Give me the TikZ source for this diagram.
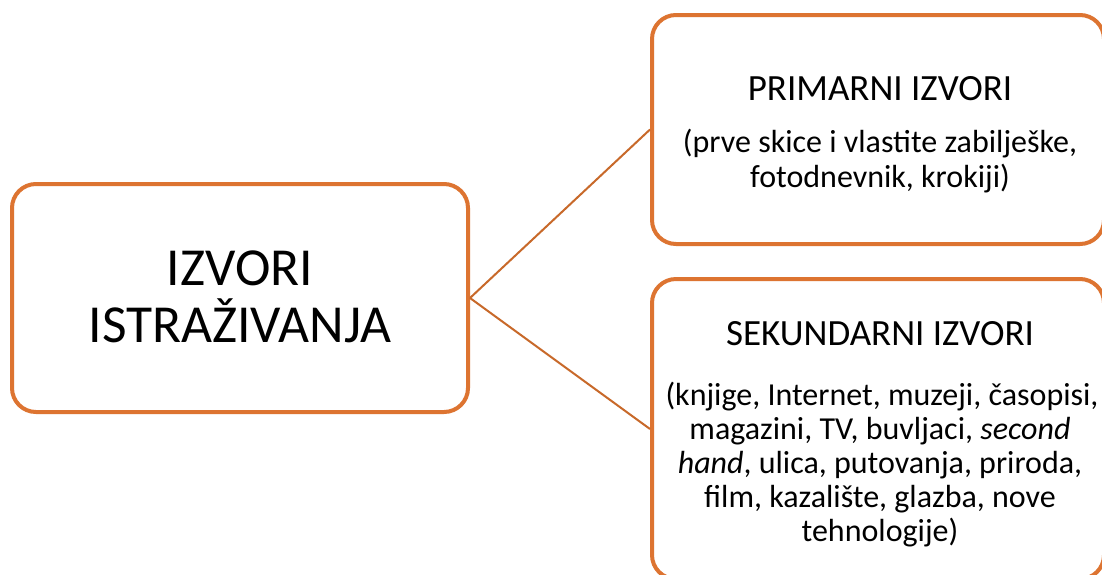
\documentclass[tikz,border=0pt]{standalone}
\usepackage{fontspec}
\setmainfont{Carlito}
\definecolor{boxc}{HTML}{DD7431}
\definecolor{linec}{HTML}{C8692A}
\begin{document}
\begin{tikzpicture}[x=1pt,y=-1pt,
  box/.style={draw=boxc, line width=4pt, rounded corners=24pt, fill=white, inner sep=0pt},
  conn/.style={draw=linec, line width=2pt},
  big/.style={anchor=base, inner sep=0pt, font=\fontsize{53.5}{57}\selectfont},
  ttl/.style={anchor=base, inner sep=0pt, font=\fontsize{37}{40}\selectfont},
  body/.style={anchor=base, inner sep=0pt, font=\fontsize{32}{35}\selectfont}]
\useasboundingbox (0,0) rectangle (1102,574);
\clip (0,0) rectangle (1102,574);
\fill[white] (0,0) rectangle (1102,574);
\node[box, minimum width=456pt, minimum height=228pt] (root) at (240,298) {};
\node[box, minimum width=452pt, minimum height=229pt] (prim) at (878,129.5) {};
\node[box, minimum width=452pt, minimum height=300pt] (sek) at (878,429) {};
\draw[conn] (root.east) -- (prim.west);
\draw[conn] (root.east) -- (sek.west);
\node[big] (r1) at (240,285) {IZVORI};
\node[big] (r2) at (240,342) {ISTRAŽIVANJA};
\node[ttl] (pt) at (880,100) {PRIMARNI IZVORI};
\node[body] (pb1) at (880,152) {(prve skice i vlastite zabilješke,};
\node[body] (pb2) at (880,187) {fotodnevnik, krokiji)};
\node[ttl] (st) at (880,345) {SEKUNDARNI IZVORI};
\node[body] (sb1) at (882,405) {(knjige, Internet, muzeji, časopisi,};
\node[body] (sb2) at (880,439) {magazini, TV, buvljaci, \textit{second}};
\node[body] (sb3) at (880,473) {\textit{hand}, ulica, putovanja, priroda,};
\node[body] (sb4) at (880,507) {film, kazalište, glazba, nove};
\node[body] (sb5) at (880,541) {tehnologije)};
\end{tikzpicture}
\end{document}
